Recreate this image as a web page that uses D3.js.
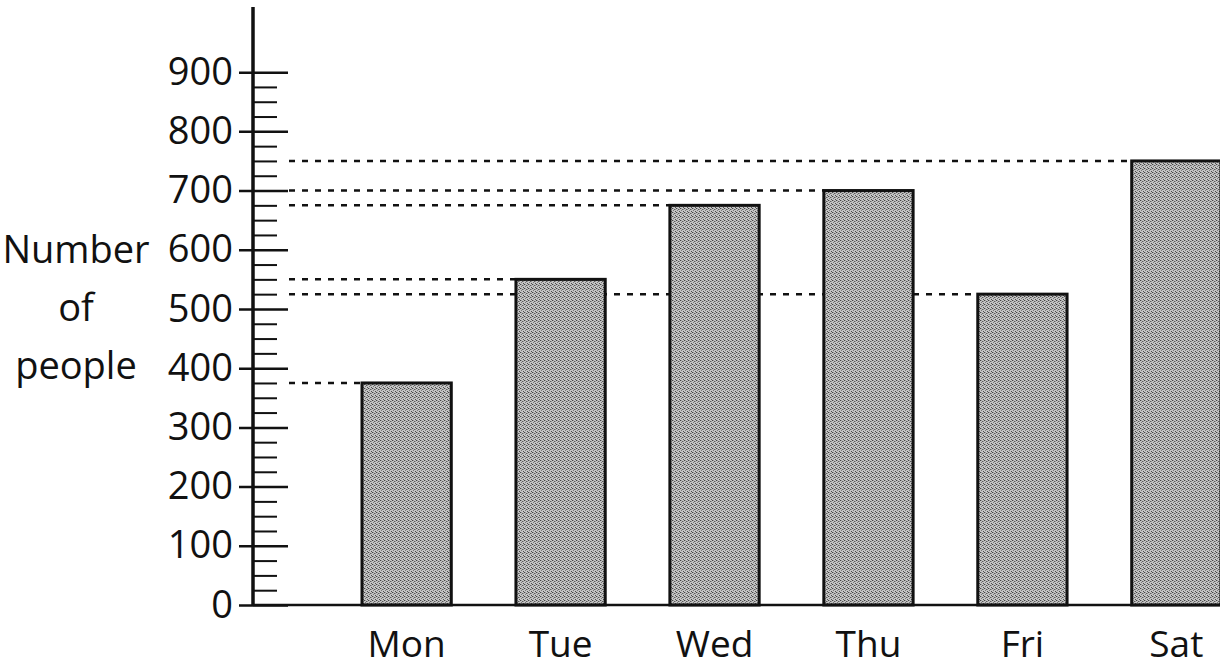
<!DOCTYPE html>
<html>
<head>
<meta charset="utf-8">
<script src="https://cdn.jsdelivr.net/npm/d3@7"></script>
<style>
  body { margin: 0; background: #fff; }
  text { font-family: "Open Sans", sans-serif; fill: #111; }
</style>
</head>
<body>
<div id="chart"></div>
<script>
const days = ["Mon", "Tue", "Wed", "Thu", "Fri", "Sat"];
const people = [375, 550, 675, 700, 525, 750];
const yTicks = [0, 100, 200, 300, 400, 500, 600, 700, 800, 900];
const yLabel = ["Number", "of", "people"];

const width = 1220;
const height = 670;
const axisX = 253;
const baseY = 605;

const svg = d3.select("#chart")
  .append("svg")
    .attr("width", width)
    .attr("height", height);

// stippled grey fill for the bars
const defs = svg.append("defs");
const pat = defs.append("pattern")
    .attr("id", "stipple")
    .attr("patternUnits", "userSpaceOnUse")
    .attr("width", 4)
    .attr("height", 4);
pat.append("rect").attr("width", 4).attr("height", 4).attr("fill", "#c4c4c4");
[[0, 0, "#444"], [2, 1, "#5a5a5a"], [1, 2, "#777"], [3, 3, "#4e4e4e"], [3, 1, "#909090"], [1, 0, "#999"]]
  .forEach(([px, py, c]) => pat.append("rect")
    .attr("x", px).attr("y", py).attr("width", 1).attr("height", 1).attr("fill", c));

const x = d3.scaleBand()
    .domain(days)
    .range([362, 1221])
    .paddingInner(0.42)
    .paddingOuter(0);

const y = d3.scaleLinear()
    .domain([0, 1010])
    .range([baseY, 7]);

const rows = days.map((d, i) => ({ day: d, value: people[i] }));

// dashed guide lines (drawn under the bars)
svg.append("g")
  .selectAll("line")
  .data(rows)
  .join("line")
    .attr("x1", axisX + 36)
    .attr("x2", d => x(d.day))
    .attr("y1", d => y(d.value))
    .attr("y2", d => y(d.value))
    .attr("stroke", "#111")
    .attr("stroke-width", 2.5)
    .attr("stroke-dasharray", "6,7");

// bars
svg.append("g")
  .selectAll("rect")
  .data(rows)
  .join("rect")
    .attr("x", d => x(d.day))
    .attr("y", d => y(d.value))
    .attr("width", x.bandwidth())
    .attr("height", d => y(0) - y(d.value))
    .attr("fill", "url(#stipple)")
    .attr("stroke", "#111")
    .attr("stroke-width", 3);

// minor ticks every 25
const minor = d3.range(25, 901, 25).filter(v => v % 100 !== 0);
svg.append("g")
    .attr("transform", `translate(${axisX},0)`)
    .call(d3.axisRight(y).tickValues(minor).tickFormat("").tickSize(24))
    .call(g => g.select(".domain").remove())
    .call(g => g.selectAll(".tick line").attr("stroke", "#111").attr("stroke-width", 2));

// y axis with major ticks crossing the line
svg.append("g")
    .attr("transform", `translate(${axisX},0)`)
    .call(d3.axisLeft(y).tickValues(yTicks).tickSize(0).tickPadding(20))
    .call(g => g.select(".domain").remove())
    .call(g => g.selectAll(".tick line")
        .attr("x1", -14).attr("x2", 35)
        .attr("stroke", "#111").attr("stroke-width", 2.5))
    .call(g => g.selectAll(".tick text")
        .attr("font-family", "Open Sans, sans-serif")
        .attr("font-size", 38)
        .attr("fill", "#111"));

// axis lines
svg.append("line")
    .attr("x1", axisX).attr("x2", axisX)
    .attr("y1", y(1010)).attr("y2", y(0))
    .attr("stroke", "#111").attr("stroke-width", 3.5);
svg.append("line")
    .attr("x1", axisX).attr("x2", width)
    .attr("y1", y(0)).attr("y2", y(0))
    .attr("stroke", "#111").attr("stroke-width", 2.5);

// x labels
svg.append("g")
  .selectAll("text")
  .data(days)
  .join("text")
    .attr("x", d => x(d) + x.bandwidth() / 2)
    .attr("y", 657)
    .attr("text-anchor", "middle")
    .attr("font-size", 37)
    .text(d => d);

// y label
svg.append("g")
  .selectAll("text")
  .data(yLabel)
  .join("text")
    .attr("x", 76)
    .attr("y", (d, i) => 263 + i * 58)
    .attr("text-anchor", "middle")
    .attr("font-size", 38)
    .text(d => d);
</script>
</body>
</html>
